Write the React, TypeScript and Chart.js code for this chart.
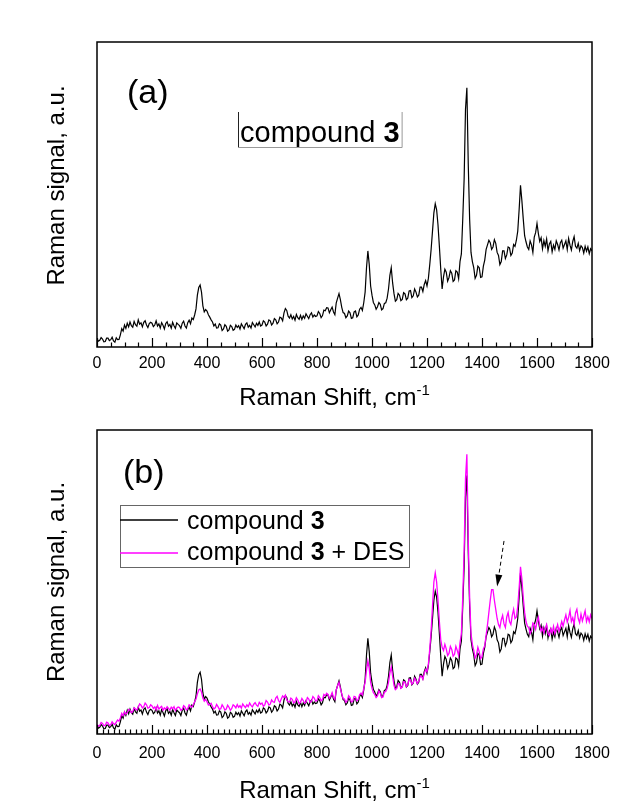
import React, { useEffect, useRef } from "react";
import { Chart, registerables } from "chart.js";

Chart.register(...registerables);

// ---------- data (Raman shift in cm^-1, 5 cm^-1 sampling) ----------
const RAMAN_SHIFT = [
  0, 5, 10, 15, 20, 25, 30, 35, 40, 45, 50, 55, 60, 65, 70, 75, 80, 85, 90, 95,
  100, 105, 110, 115, 120, 125, 130, 135, 140, 145, 150, 155, 160, 165, 170, 175, 180, 185, 190, 195,
  200, 205, 210, 215, 220, 225, 230, 235, 240, 245, 250, 255, 260, 265, 270, 275, 280, 285, 290, 295,
  300, 305, 310, 315, 320, 325, 330, 335, 340, 345, 350, 355, 360, 365, 370, 375, 380, 385, 390, 395,
  400, 405, 410, 415, 420, 425, 430, 435, 440, 445, 450, 455, 460, 465, 470, 475, 480, 485, 490, 495,
  500, 505, 510, 515, 520, 525, 530, 535, 540, 545, 550, 555, 560, 565, 570, 575, 580, 585, 590, 595,
  600, 605, 610, 615, 620, 625, 630, 635, 640, 645, 650, 655, 660, 665, 670, 675, 680, 685, 690, 695,
  700, 705, 710, 715, 720, 725, 730, 735, 740, 745, 750, 755, 760, 765, 770, 775, 780, 785, 790, 795,
  800, 805, 810, 815, 820, 825, 830, 835, 840, 845, 850, 855, 860, 865, 870, 875, 880, 885, 890, 895,
  900, 905, 910, 915, 920, 925, 930, 935, 940, 945, 950, 955, 960, 965, 970, 975, 980, 985, 990, 995,
  1000, 1005, 1010, 1015, 1020, 1025, 1030, 1035, 1040, 1045, 1050, 1055, 1060, 1065, 1070, 1075, 1080, 1085, 1090, 1095,
  1100, 1105, 1110, 1115, 1120, 1125, 1130, 1135, 1140, 1145, 1150, 1155, 1160, 1165, 1170, 1175, 1180, 1185, 1190, 1195,
  1200, 1205, 1210, 1215, 1220, 1225, 1230, 1235, 1240, 1245, 1250, 1255, 1260, 1265, 1270, 1275, 1280, 1285, 1290, 1295,
  1300, 1305, 1310, 1315, 1320, 1325, 1330, 1335, 1340, 1345, 1350, 1355, 1360, 1365, 1370, 1375, 1380, 1385, 1390, 1395,
  1400, 1405, 1410, 1415, 1420, 1425, 1430, 1435, 1440, 1445, 1450, 1455, 1460, 1465, 1470, 1475, 1480, 1485, 1490, 1495,
  1500, 1505, 1510, 1515, 1520, 1525, 1530, 1535, 1540, 1545, 1550, 1555, 1560, 1565, 1570, 1575, 1580, 1585, 1590, 1595,
  1600, 1605, 1610, 1615, 1620, 1625, 1630, 1635, 1640, 1645, 1650, 1655, 1660, 1665, 1670, 1675, 1680, 1685, 1690, 1695,
  1700, 1705, 1710, 1715, 1720, 1725, 1730, 1735, 1740, 1745, 1750, 1755, 1760, 1765, 1770, 1775, 1780, 1785, 1790, 1795,
  1800,
];

// compound 3 (black), arbitrary units
const COMPOUND_3 = [
  2.8, 1.9, 2.2, 3.1, 2.6, 1.7, 1.8, 2.9, 2.9, 2.1, 2.4, 3.2, 2.0, 1.6, 3.0, 2.4, 2.5, 4.0, 6.0, 5.2,
  7.2, 6.1, 7.8, 6.6, 8.2, 7.0, 6.5, 8.4, 7.3, 6.8, 8.9, 7.5, 7.9, 6.6, 8.1, 8.6, 7.2, 6.4, 7.7, 8.1,
  7.8, 6.7, 7.2, 8.6, 6.9, 7.6, 6.2, 8.0, 7.1, 5.9, 7.7, 8.3, 6.8, 7.4, 6.2, 8.1, 7.0, 6.1, 7.9, 7.4,
  7.0, 6.1, 7.8, 8.5, 6.9, 6.2, 8.0, 8.8, 7.6, 9.5, 9.0, 10.5, 12.5, 17.0, 19.5, 20.3, 18.0, 13.5, 11.5, 12.3,
  11.8, 10.6, 9.8, 8.9, 8.2, 6.9, 7.5, 6.2, 6.3, 7.6, 7.2, 5.4, 5.9, 7.3, 6.8, 5.2, 5.6, 7.1, 6.7, 5.5,
  5.8, 7.2, 6.4, 7.0, 5.9, 7.6, 6.8, 6.0, 7.4, 7.9, 6.5, 7.1, 6.2, 8.0, 7.3, 6.6, 7.8, 7.1, 8.2, 6.9,
  7.2, 8.6, 8.2, 6.9, 7.5, 8.9, 8.6, 7.2, 7.8, 9.3, 8.9, 7.6, 8.2, 9.8, 9.5, 8.6, 11.2, 12.6, 12.0, 10.1,
  9.5, 10.6, 9.2, 10.0, 8.8, 10.7, 9.6, 9.1, 10.4, 9.0, 10.2, 9.4, 10.9, 10.1, 9.3, 10.6, 11.2, 9.8, 10.5, 10.0,
  10.2, 11.6, 11.0, 9.6, 10.3, 12.1, 11.9, 12.9, 12.8, 11.2, 12.2, 13.1, 11.5, 10.6, 14.5, 16.0, 17.5, 15.5, 13.0, 11.3,
  11.0, 9.6, 10.2, 11.8, 11.2, 9.4, 9.6, 11.5, 11.8, 9.9, 10.5, 12.4, 13.0, 12.0, 14.5, 18.0, 26.0, 31.5, 27.0, 20.0,
  17.0, 14.6, 13.8, 12.4, 13.2, 14.6, 14.0, 12.2, 12.6, 14.3, 14.5, 16.0, 19.0, 23.5, 26.0, 21.0, 17.5, 15.0, 15.5, 17.6,
  17.0, 15.2, 15.6, 17.8, 17.4, 15.5, 16.0, 18.4, 18.5, 16.2, 16.8, 19.0, 18.0, 16.4, 17.0, 19.6, 19.6, 18.2, 20.5, 21.8,
  20.0, 22.5, 27.0, 32.0, 38.0, 44.0, 47.0, 45.0, 40.0, 33.0, 25.5, 19.0, 23.0, 25.5, 24.5, 21.6, 22.8, 25.0, 24.2, 21.5,
  22.0, 25.0, 24.6, 22.4, 28.0, 30.5, 42.0, 55.0, 78.0, 85.0, 60.0, 42.0, 31.0, 28.0, 26.0, 22.5, 23.5, 26.5, 26.0, 22.8,
  23.0, 26.5, 28.5, 32.0, 33.5, 35.0, 34.2, 32.0, 32.8, 35.2, 34.0, 31.0, 30.0, 27.0, 28.0, 31.5, 31.5, 29.0, 30.2, 32.8,
  32.5, 30.0, 30.8, 33.6, 33.0, 35.0, 38.0, 45.0, 53.0, 48.0, 42.0, 36.5, 34.5, 32.8, 32.0, 34.8, 33.5, 31.0, 36.0, 37.5,
  40.5, 37.2, 34.6, 35.8, 32.2, 34.9, 33.0, 35.4, 31.6, 33.8, 34.6, 31.2, 33.4, 32.0, 34.8, 33.6, 31.8, 34.2, 35.0, 32.4,
  33.6, 34.8, 32.0, 35.6, 33.4, 31.8, 34.6, 36.2, 33.0, 32.4, 34.0, 31.6, 33.2, 32.6, 30.8, 33.0, 31.4, 32.8, 30.6, 32.2,
  31.5,
];

// compound 3 + DES (magenta), arbitrary units
const COMPOUND_3_DES = [
  3.2, 2.6, 2.8, 3.8, 3.5, 2.7, 2.9, 3.9, 3.6, 2.8, 3.0, 4.0, 3.4, 3.1, 3.9, 4.6, 4.2, 5.3, 6.8, 6.0,
  7.3, 6.5, 7.0, 8.1, 7.8, 7.0, 7.4, 8.6, 8.2, 7.9, 8.8, 9.9, 9.5, 8.6, 9.0, 10.2, 9.6, 8.5, 8.7, 9.6,
  9.2, 8.4, 8.9, 7.9, 9.4, 8.2, 8.7, 9.1, 7.8, 8.6, 8.1, 9.0, 8.4, 7.8, 8.8, 8.3, 9.0, 7.7, 8.5, 8.9,
  8.7, 7.8, 8.1, 9.3, 8.9, 7.9, 8.3, 9.6, 9.2, 8.8, 9.6, 10.6, 11.5, 13.2, 14.5, 14.8, 13.8, 11.8, 10.8, 11.4,
  10.6, 9.5, 9.8, 10.1, 9.0, 8.2, 8.6, 9.7, 9.0, 8.1, 8.3, 9.6, 8.9, 7.9, 8.2, 9.5, 8.8, 7.8, 8.4, 9.6,
  9.2, 8.6, 9.7, 8.8, 9.3, 8.5, 9.9, 9.2, 8.7, 9.6, 9.0, 10.2, 9.4, 8.9, 9.8, 10.3, 9.5, 9.1, 10.4, 9.8,
  10.2, 9.1, 9.6, 11.0, 10.5, 9.5, 9.8, 11.2, 10.6, 10.4, 11.8, 12.4, 11.0, 10.4, 11.5, 12.5, 12.0, 12.8, 11.2, 10.6,
  10.5, 11.8, 11.4, 10.2, 10.6, 11.9, 11.2, 10.0, 10.4, 11.7, 11.0, 10.1, 10.5, 12.0, 11.5, 10.4, 10.8, 12.3, 11.8, 10.8,
  11.0, 12.6, 12.0, 10.9, 11.4, 13.0, 12.6, 13.4, 13.0, 11.8, 12.4, 13.6, 12.0, 11.4, 14.5, 16.0, 17.0, 15.0, 13.2, 11.6,
  11.5, 10.4, 11.0, 12.6, 12.0, 10.5, 10.8, 12.4, 12.2, 10.9, 11.4, 13.0, 13.5, 12.8, 15.0, 17.0, 21.0, 24.0, 21.5, 17.0,
  15.0, 13.6, 13.0, 12.0, 12.5, 14.2, 13.4, 12.0, 12.2, 13.8, 14.0, 15.0, 17.0, 20.0, 22.0, 19.0, 16.0, 14.6, 15.0, 16.6,
  16.5, 15.0, 15.4, 17.2, 17.0, 15.6, 16.2, 18.0, 17.8, 16.4, 16.9, 18.4, 17.6, 16.6, 17.4, 19.0, 19.0, 18.0, 20.0, 21.2,
  20.5, 23.0, 28.0, 34.0, 42.0, 50.0, 53.0, 50.0, 44.0, 37.0, 31.0, 28.5, 27.5, 29.5, 28.0, 25.8, 26.5, 28.8, 27.8, 25.6,
  26.2, 28.8, 27.5, 25.8, 30.0, 33.0, 45.0, 60.0, 84.0, 92.0, 64.0, 45.0, 33.0, 29.5, 27.5, 25.0, 26.0, 28.5, 27.0, 24.8,
  25.5, 28.0, 29.0, 32.5, 36.0, 40.0, 44.0, 47.5, 47.5, 44.0, 41.0, 38.0, 36.0, 35.0, 37.5, 39.0, 36.2, 35.0, 38.5, 40.0,
  37.0, 36.0, 39.0, 41.0, 38.0, 38.5, 42.0, 48.0, 55.0, 51.0, 45.0, 40.0, 37.0, 35.5, 35.0, 33.0, 34.0, 36.5, 36.0, 34.5,
  37.0, 38.4, 35.6, 33.8, 35.0, 33.2, 34.8, 36.0, 33.0, 32.4, 34.6, 33.2, 35.4, 33.0, 34.2, 36.0, 33.8, 35.2, 37.0, 35.5,
  37.5, 39.2, 36.8, 38.4, 40.6, 37.0, 38.2, 36.1, 39.8, 41.0, 38.0, 36.6, 39.4, 37.2, 38.8, 40.5, 37.0, 38.6, 36.9, 39.2,
  38.0,
];

const X_TICKS = [0, 200, 400, 600, 800, 1000, 1200, 1400, 1600, 1800];
const SERIES_NAME = "compound ";
const X_TITLE = "Raman Shift, cm";
const X_TITLE_SUP = "-1";
const Y_TITLE = "Raman signal, a.u.";
// arrow annotation in panel (b): [x, y] in data units, tail then head
const ARROW_TAIL = [1480, 63.5];
const ARROW_HEAD = [1455, 48.5];

const FONT = '"Liberation Sans", Arial, Helvetica, sans-serif';

function pts(ys: number[]) {
  return RAMAN_SHIFT.map((x, i) => ({ x, y: ys[i] }));
}

function drawCommon(chart: any, cfg: any) {
  const ctx: CanvasRenderingContext2D = chart.ctx;
  const { left, right, top, bottom } = chart.chartArea;
  const xs = chart.scales.x;
  ctx.save();
  // frame
  ctx.strokeStyle = "#000";
  ctx.lineWidth = 1.5;
  ctx.strokeRect(left, top, right - left, bottom - top);
  // inward ticks
  ctx.lineWidth = 1.2;
  ctx.beginPath();
  for (let v = 0; v <= 1800; v += cfg.minorStep) {
    const px = Math.round(xs.getPixelForValue(v)) + 0.5;
    const len = v % 200 === 0 ? 9 : 4.5;
    ctx.moveTo(px, bottom);
    ctx.lineTo(px, bottom - len);
  }
  ctx.stroke();

  // x title with superscript
  ctx.fillStyle = "#000";
  ctx.textBaseline = "alphabetic";
  ctx.font = `24px ${FONT}`;
  const mainW = ctx.measureText(X_TITLE).width;
  ctx.font = `15px ${FONT}`;
  const supW = ctx.measureText(X_TITLE_SUP).width;
  const cx = (left + right) / 2 - 10;
  const tx = cx - (mainW + supW) / 2;
  const ty = bottom + cfg.xTitleOffset;
  ctx.font = `24px ${FONT}`;
  ctx.textAlign = "left";
  ctx.fillText(X_TITLE, tx, ty);
  ctx.font = `15px ${FONT}`;
  ctx.fillText(X_TITLE_SUP, tx + mainW, ty - 10);

  // y title
  ctx.save();
  ctx.font = `24px ${FONT}`;
  ctx.translate(64, (top + bottom) / 2 + cfg.yTitleShift);
  ctx.rotate(-Math.PI / 2);
  ctx.textAlign = "center";
  ctx.fillText(Y_TITLE, 0, 0);
  ctx.restore();

  // panel letter
  ctx.font = `34px ${FONT}`;
  ctx.textAlign = "left";
  ctx.fillText(cfg.letter, left + cfg.letterDx, top + cfg.letterDy);
  ctx.restore();
}

function drawRich(ctx: CanvasRenderingContext2D, parts: [string, boolean][], x: number, y: number, size: number) {
  let cx = x;
  for (const [s, bold] of parts) {
    ctx.font = `${bold ? "bold " : ""}${size}px ${FONT}`;
    ctx.fillText(s, cx, y);
    cx += ctx.measureText(s).width;
  }
  return cx - x;
}

const topPlugin = {
  id: "topDecor",
  afterDraw(chart: any) {
    drawCommon(chart, { minorStep: 50, xTitleOffset: 58, yTitleShift: -9, letter: "(a)", letterDx: 30, letterDy: 61 });
    const ctx: CanvasRenderingContext2D = chart.ctx;
    const { left, top } = chart.chartArea;
    ctx.save();
    ctx.fillStyle = "#000";
    ctx.textBaseline = "alphabetic";
    ctx.textAlign = "left";
    const bx = left + 141;
    const by = top + 100;
    const w = drawRich(ctx, [[SERIES_NAME, false], ["3", true]], bx + 2, by, 29);
    // label box (left, bottom, right edges)
    ctx.lineWidth = 1;
    ctx.strokeStyle = "#222";
    ctx.beginPath();
    ctx.moveTo(bx + 0.5, by - 30);
    ctx.lineTo(bx + 0.5, by + 5.5);
    ctx.stroke();
    ctx.strokeStyle = "#999";
    ctx.beginPath();
    ctx.moveTo(bx + 0.5, by + 5.5);
    ctx.lineTo(bx + w + 4.5, by + 5.5);
    ctx.lineTo(bx + w + 4.5, by - 30);
    ctx.stroke();
    ctx.restore();
  },
};

const bottomPlugin = {
  id: "bottomDecor",
  afterDraw(chart: any) {
    drawCommon(chart, { minorStep: 20, xTitleOffset: 64, yTitleShift: 0, letter: "(b)", letterDx: 26, letterDy: 53 });
    const ctx: CanvasRenderingContext2D = chart.ctx;
    const { left, top } = chart.chartArea;
    const xs = chart.scales.x;
    const ys = chart.scales.y;
    ctx.save();
    // legend box
    const lx = left + 23;
    const ly = top + 75;
    const lw = 289;
    const lh = 62;
    ctx.fillStyle = "#fff";
    ctx.fillRect(lx, ly, lw, lh);
    ctx.strokeStyle = "#666";
    ctx.lineWidth = 1;
    ctx.strokeRect(lx + 0.5, ly + 0.5, lw, lh);
    const rows: [string, [string, boolean][]][] = [
      ["#000000", [[SERIES_NAME, false], ["3", true]]],
      ["#ff00ff", [[SERIES_NAME, false], ["3", true], [" + DES", false]]],
    ];
    rows.forEach(([color, parts], i) => {
      const lineY = ly + 15 + i * 33;
      ctx.strokeStyle = color;
      ctx.lineWidth = 1.5;
      ctx.beginPath();
      ctx.moveTo(lx, lineY);
      ctx.lineTo(lx + 58, lineY);
      ctx.stroke();
      ctx.fillStyle = "#000";
      ctx.textBaseline = "alphabetic";
      ctx.textAlign = "left";
      drawRich(ctx, parts, lx + 67, ly + 24 + i * 31, 25);
    });
    // arrow
    const x0 = xs.getPixelForValue(ARROW_TAIL[0]);
    const y0 = ys.getPixelForValue(ARROW_TAIL[1]);
    const x1 = xs.getPixelForValue(ARROW_HEAD[0]);
    const y1 = ys.getPixelForValue(ARROW_HEAD[1]);
    const ang = Math.atan2(y1 - y0, x1 - x0);
    const headLen = 12;
    const hx = x1 - headLen * Math.cos(ang);
    const hy = y1 - headLen * Math.sin(ang);
    ctx.strokeStyle = "#000";
    ctx.lineWidth = 1;
    ctx.setLineDash([4, 3]);
    ctx.beginPath();
    ctx.moveTo(x0, y0);
    ctx.lineTo(hx, hy);
    ctx.stroke();
    ctx.setLineDash([]);
    ctx.fillStyle = "#000";
    ctx.beginPath();
    ctx.moveTo(x1, y1);
    ctx.lineTo(hx + 3.5 * Math.sin(ang), hy - 3.5 * Math.cos(ang));
    ctx.lineTo(hx - 3.5 * Math.sin(ang), hy + 3.5 * Math.cos(ang));
    ctx.closePath();
    ctx.fill();
    ctx.restore();
  },
};

function makeOptions(padTop: number, axisH: number, tickPad: number, yMax: number) {
  return {
    responsive: false,
    animation: false as const,
    events: [],
    layout: { padding: { left: 97, right: 29, top: padTop, bottom: 0 } },
    plugins: { legend: { display: false }, tooltip: { enabled: false } },
    elements: { point: { radius: 0 }, line: { tension: 0 } },
    scales: {
      x: {
        type: "linear" as const,
        min: 0,
        max: 1800,
        afterBuildTicks: (s: any) => {
          s.ticks = X_TICKS.map((v) => ({ value: v }));
        },
        afterFit: (s: any) => {
          s.height = axisH;
        },
        ticks: {
          autoSkip: false,
          maxRotation: 0,
          minRotation: 0,
          padding: tickPad,
          color: "#000",
          font: { family: FONT, size: 16 },
          callback: (v: any) => String(v),
        },
        grid: { display: false, drawTicks: false },
        border: { display: false },
      },
      y: { display: false, min: 0, max: yMax },
    },
  };
}

function TopChart() {
  const ref = useRef<HTMLCanvasElement>(null);
  useEffect(() => {
    const chart = new Chart(ref.current!, {
      type: "line",
      data: {
        datasets: [
          { label: "compound 3", data: pts(COMPOUND_3), borderColor: "#000", borderWidth: 1.2, pointRadius: 0, fill: false },
        ],
      },
      options: makeOptions(42, 63, 7, 100) as any,
      plugins: [topPlugin],
    });
    return () => chart.destroy();
  }, []);
  return <canvas ref={ref} width={621} height={410} style={{ position: "absolute", left: 0, top: 0 }} />;
}

function BottomChart() {
  const ref = useRef<HTMLCanvasElement>(null);
  useEffect(() => {
    const chart = new Chart(ref.current!, {
      type: "line",
      data: {
        datasets: [
          { label: "compound 3 + DES", data: pts(COMPOUND_3_DES), borderColor: "#ff00ff", borderWidth: 1.3, pointRadius: 0, fill: false, order: 0 },
          { label: "compound 3", data: pts(COMPOUND_3), borderColor: "#000", borderWidth: 1.2, pointRadius: 0, fill: false, order: 1 },
        ],
      },
      options: makeOptions(20, 73, 10, 100) as any,
      plugins: [bottomPlugin],
    });
    return () => chart.destroy();
  }, []);
  return <canvas ref={ref} width={621} height={397} style={{ position: "absolute", left: 0, top: 410 }} />;
}

export default function App() {
  return (
    <div style={{ position: "fixed", left: 0, top: 0, width: 621, height: 807, background: "#fff", overflow: "hidden" }}>
      <TopChart />
      <BottomChart />
    </div>
  );
}
